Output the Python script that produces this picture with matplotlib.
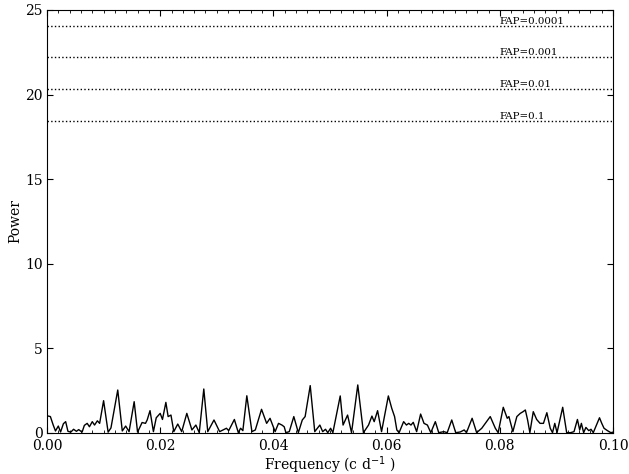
import matplotlib
matplotlib.use("Agg")
import matplotlib.pyplot as plt
from matplotlib.ticker import MultipleLocator

# periodogram samples (frequency in c/d, power)
freq = [0.0000, 0.0006, 0.0011, 0.0015, 0.0020, 0.0024, 0.0029, 0.0033, 0.0037,
        0.0042, 0.0047, 0.0052, 0.0056, 0.0062, 0.0066, 0.0071, 0.0075, 0.0080,
        0.0084, 0.0089, 0.0093, 0.0100, 0.0108, 0.0113, 0.0125, 0.0133, 0.0139,
        0.0145, 0.0154, 0.0160, 0.0168, 0.0174, 0.0177, 0.0182, 0.0188, 0.0193,
        0.0200, 0.0204, 0.0210, 0.0214, 0.0219, 0.0224, 0.0231, 0.0238, 0.0247,
        0.0256, 0.0263, 0.0269, 0.0277, 0.0284, 0.0295, 0.0305, 0.0311, 0.0317,
        0.0321, 0.0331, 0.0338, 0.0342, 0.0346, 0.0353, 0.0362, 0.0368, 0.0379,
        0.0388, 0.0394, 0.0403, 0.0409, 0.0415, 0.0419, 0.0422, 0.0428, 0.0436,
        0.0444, 0.0451, 0.0456, 0.0465, 0.0473, 0.0482, 0.0487, 0.0492, 0.0496,
        0.0501, 0.0505, 0.0518, 0.0523, 0.0531, 0.0538, 0.0549, 0.0559, 0.0568,
        0.0574, 0.0578, 0.0584, 0.0591, 0.0603, 0.0609, 0.0614, 0.0618, 0.0622,
        0.0630, 0.0635, 0.0639, 0.0643, 0.0647, 0.0653, 0.0660, 0.0666, 0.0672,
        0.0678, 0.0686, 0.0692, 0.0701, 0.0707, 0.0715, 0.0722, 0.0730, 0.0737,
        0.0741, 0.0751, 0.0759, 0.0768, 0.0783, 0.0792, 0.0797, 0.0806, 0.0813,
        0.0816, 0.0823, 0.0830, 0.0836, 0.0841, 0.0845, 0.0849, 0.0853, 0.0859,
        0.0865, 0.0871, 0.0877, 0.0883, 0.0889, 0.0893, 0.0897, 0.0901, 0.0911,
        0.0918, 0.0925, 0.0931, 0.0937, 0.0941, 0.0944, 0.0948, 0.0952, 0.0957,
        0.0961, 0.0965, 0.0976, 0.0980, 0.0984, 0.0990, 0.0996, 0.1000]
power = [1.02, 0.97, 0.47, 0.12, 0.41, 0.06, 0.55, 0.67, 0.10, 0.05, 0.22, 0.10,
         0.20, 0.05, 0.45, 0.57, 0.37, 0.67, 0.47, 0.72, 0.57, 1.91, 0.05, 0.30,
         2.54, 0.12, 0.41, 0.08, 1.85, 0.05, 0.62, 0.57, 0.77, 1.32, 0.08, 0.90,
         1.16, 0.80, 1.81, 0.97, 1.06, 0.08, 0.53, 0.08, 1.16, 0.18, 0.47, 0.02,
         2.60, 0.08, 0.77, 0.08, 0.18, 0.28, 0.14, 0.80, 0.02, 0.28, 0.14, 2.20,
         0.08, 0.18, 1.40, 0.57, 0.87, 0.08, 0.57, 0.47, 0.37, 0.02, 0.08, 0.97,
         0.02, 0.77, 0.97, 2.80, 0.08, 0.47, 0.08, 0.22, 0.02, 0.28, 0.02, 2.19,
         0.47, 1.06, 0.02, 2.84, 0.02, 0.47, 1.00, 0.67, 1.32, 0.08, 2.19, 1.46,
         0.97, 0.18, 0.02, 0.67, 0.47, 0.57, 0.47, 0.63, 0.08, 1.12, 0.57, 0.47,
         0.02, 0.67, 0.02, 0.08, 0.02, 0.77, 0.02, 0.06, 0.18, 0.02, 0.87, 0.02,
         0.28, 0.97, 0.28, 0.02, 1.52, 0.87, 0.97, 0.08, 0.97, 1.16, 1.26, 1.36,
         0.77, 0.02, 1.26, 0.80, 0.57, 0.57, 1.20, 0.28, 0.02, 0.57, 0.02, 1.52,
         0.02, 0.02, 0.08, 0.80, 0.18, 0.57, 0.02, 0.33, 0.14, 0.22, 0.02, 0.90,
         0.57, 0.28, 0.14, 0.02, 0.05]

# false alarm probability levels
fap_labels = ["FAP=0.0001", "FAP=0.001", "FAP=0.01", "FAP=0.1"]
fap_power = [24.05, 22.22, 20.33, 18.44]

plt.rcParams['font.family'] = 'DejaVu Serif'
plt.rcParams['font.size'] = 10

fig = plt.figure(figsize=(6.29, 4.74), dpi=100)
ax = fig.add_axes([0.0747, 0.0865, 0.9, 0.8925])

ax.plot(freq, power, c='k', lw=1.0)
for lab, p in zip(fap_labels, fap_power):
    ax.axhline(p, c='k', ls=':', lw=1.0)
    ax.text(0.08, p + 0.1, lab, fontsize=7.4, va='baseline', ha='left')

ax.set_xlim(0, 0.1)
ax.set_ylim(0, 25)
ax.set_xticks([0.0, 0.02, 0.04, 0.06, 0.08, 0.10])
ax.set_yticks([0, 5, 10, 15, 20, 25])
ax.xaxis.set_minor_locator(MultipleLocator(0.002))
ax.tick_params(which='both', direction='in', top=True, right=True)
ax.tick_params(which='major', length=4, pad=4)
ax.tick_params(axis='y', which='major', pad=3)
ax.tick_params(which='minor', length=2)
ax.set_xlabel('Frequency (c d$^{-1}$ )', labelpad=1)
ax.set_ylabel('Power', labelpad=2)

fig.savefig('out.png', dpi=100)
